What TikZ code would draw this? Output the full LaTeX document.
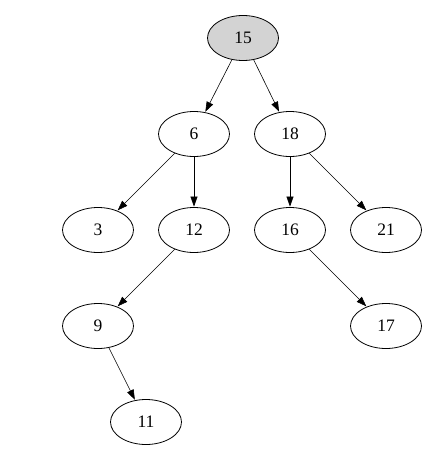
\documentclass[tikz,border=0pt]{standalone}
\usepackage{fontspec}
\setmainfont{Liberation Serif}
\usetikzlibrary{arrows.meta,shapes.geometric}
\begin{document}
\begin{tikzpicture}[x=1pt,y=-1pt,
  tnode/.style={draw,ellipse,line width=0.8pt,minimum width=71pt,minimum height=45pt,inner sep=0pt,font=\fontsize{17.5}{20}\selectfont},
  tedge/.style={-{Triangle[length=10pt,width=7pt]},line width=0.6pt,shorten >=0.5pt}]
\useasboundingbox (0,0) rectangle (436,460);
\node[tnode,fill={rgb,255:red,211;green,211;blue,211}] (n15) at (243,38) {15};
\node[tnode] (n6) at (194,134) {6};
\node[tnode] (n18) at (290,134) {18};
\node[tnode] (n3) at (98,230) {3};
\node[tnode] (n12) at (194,230) {12};
\node[tnode] (n16) at (290,230) {16};
\node[tnode] (n21) at (386,230) {21};
\node[tnode] (n9) at (98,326) {9};
\node[tnode] (n17) at (386,326) {17};
\node[tnode] (n11) at (146,422) {11};
\draw[tedge] (n15) -- (n6);
\draw[tedge] (n15) -- (n18);
\draw[tedge] (n6) -- (n3);
\draw[tedge] (n6) -- (n12);
\draw[tedge] (n18) -- (n16);
\draw[tedge] (n18) -- (n21);
\draw[tedge] (n12) -- (n9);
\draw[tedge] (n16) -- (n17);
\draw[tedge] (n9) -- (n11);
\end{tikzpicture}
\end{document}
